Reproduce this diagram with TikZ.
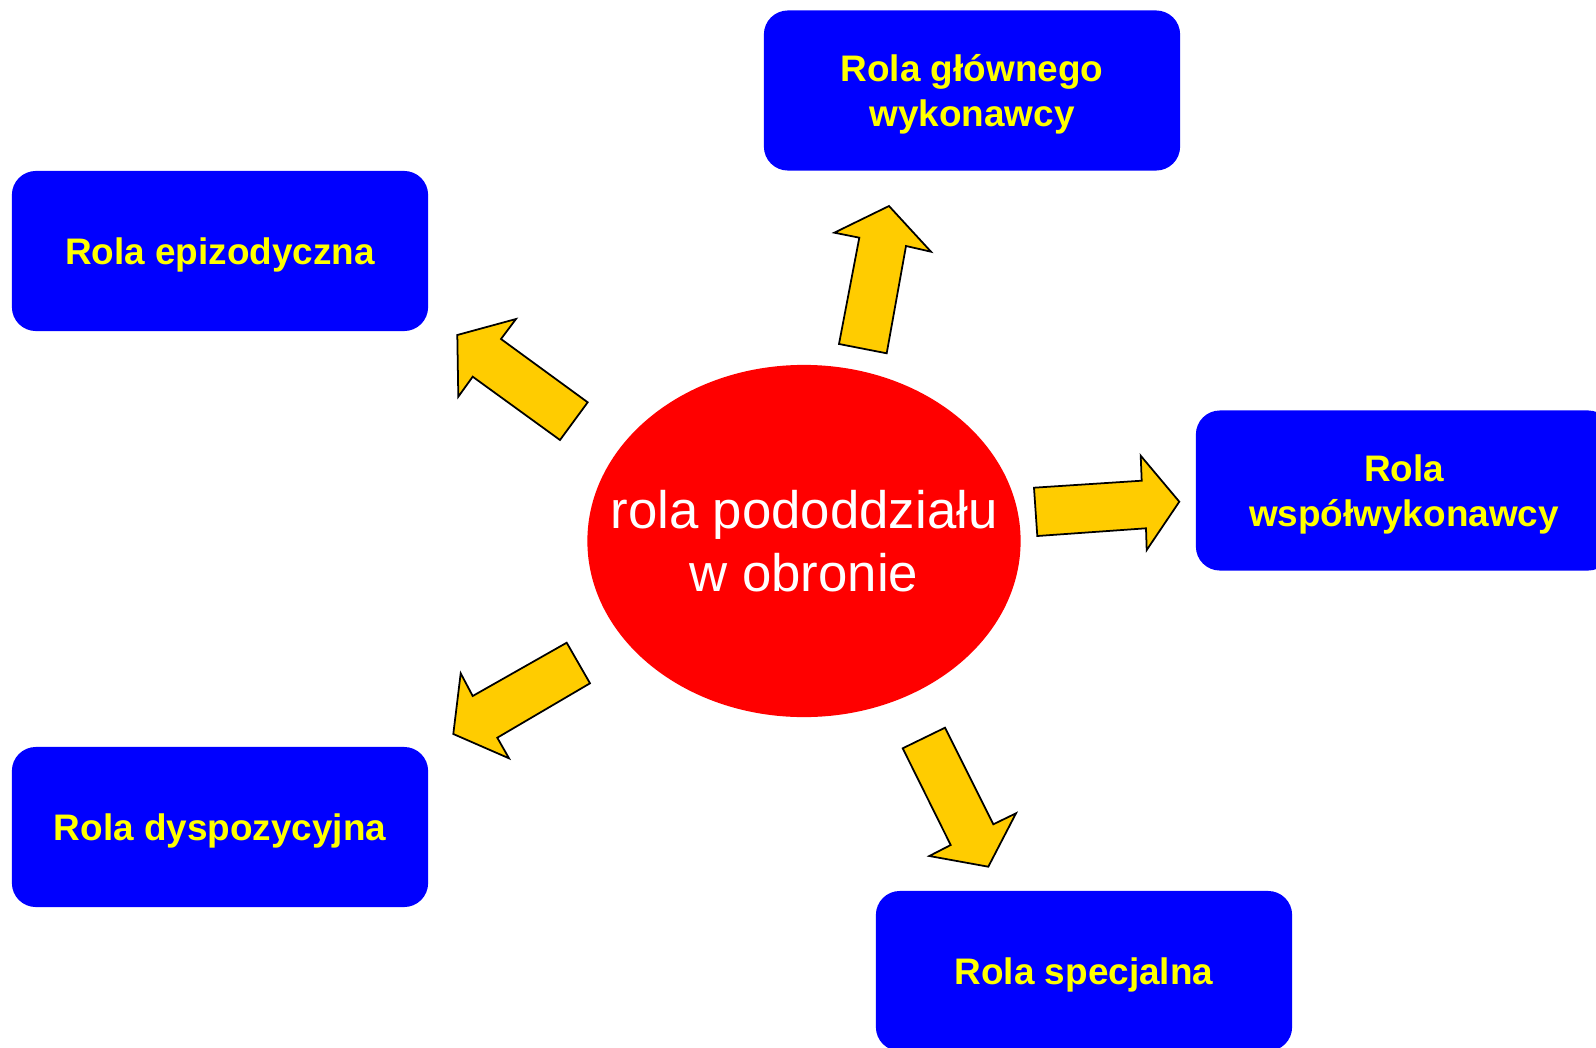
\documentclass[tikz,border=0pt]{standalone}
\usepackage{fontspec}
\setmainfont{Liberation Sans}
\definecolor{RoleBlue}{RGB}{0,0,255}
\definecolor{RoleYellow}{RGB}{255,255,0}
\definecolor{HubRed}{RGB}{255,0,0}
\definecolor{ArrowGold}{RGB}{255,204,0}
\usetikzlibrary{shapes.geometric}
\tikzset{
  rolebox/.style={fill=RoleBlue,text=RoleYellow,rounded corners=0.24cm,minimum width=4.16cm,minimum height=1.6cm,inner sep=0pt,text depth=0pt,align=center,font=\fontsize{10.5}{13}\selectfont\bfseries},
  hub/.style={ellipse,fill=HubRed,text=white,minimum width=4.33cm,minimum height=3.52cm,inner xsep=-0.6cm,inner ysep=0pt,align=center,font=\fontsize{15}{18}\selectfont},
  blockarrow/.style={fill=ArrowGold,draw=black,line width=0.5pt,line join=miter},
}
\begin{document}
\begin{tikzpicture}[x=0.01cm,y=-0.01cm]
    \useasboundingbox (0,0) rectangle (1596,1048);
    \clip (0,0) rectangle (1596,1048);
    \node[hub] (hub) at (804,541) {rola pododdziału\\w obronie};
    \node[rolebox] (main) at (972,90.5) {Rola głównego\\wykonawcy};
    \node[rolebox] (episode) at (220,251) {Rola epizodyczna};
    \node[rolebox] (cowork) at (1404,490.5) {Rola\\współwykonawcy};
    \node[rolebox] (dispo) at (220,827) {Rola dyspozycyjna};
    \node[rolebox] (special) at (1084,971) {Rola specjalna};
    \draw[blockarrow] (839,344) -- (859.3,237.7) -- (834.3,232.7) -- (889,206) -- (931,251.7) -- (906,246) -- (886.7,353.3) -- cycle;
    \draw[blockarrow] (587.7,402.3) -- (501,339) -- (516,319) -- (457.3,335) -- (458.3,396.7) -- (472.7,376.7) -- (560,440) -- cycle;
    \draw[blockarrow] (1034,487.7) -- (1141.7,480.7) -- (1140.7,455.7) -- (1179.3,501.7) -- (1146.7,550) -- (1146,528.3) -- (1037.3,536) -- cycle;
    \draw[blockarrow] (566.7,642.7) -- (590,683.3) -- (497.3,737.7) -- (509,758.3) -- (453.3,734) -- (460.7,673.3) -- (472.7,696) -- cycle;
    \draw[blockarrow] (902.7,748.3) -- (945,727.7) -- (993.3,824.3) -- (1016,813.3) -- (988.3,866.7) -- (929.3,856) -- (950.7,845) -- cycle;
  \end{tikzpicture}
\end{document}
